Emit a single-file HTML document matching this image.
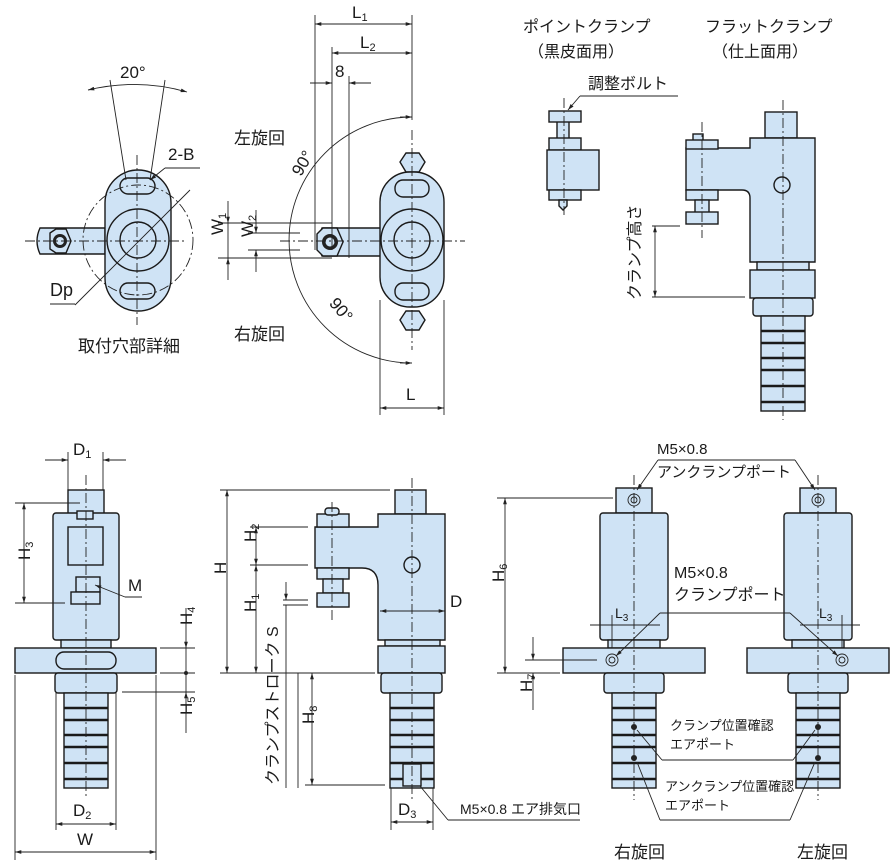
<!DOCTYPE html>
<html><head><meta charset="utf-8"><style>
html,body{margin:0;padding:0;background:#fff}
svg{display:block}
text{font-family:"Liberation Sans","Noto Sans CJK JP",sans-serif;fill:#1a1a1a}
.b{fill:#cfe3f5;stroke:#1a1a1a;stroke-width:1.4}
.l{fill:none;stroke:#222;stroke-width:0.9}
.c{fill:none;stroke:#222;stroke-width:0.9;stroke-dasharray:10,3,2,3}
.g{stroke:#1a1a1a;stroke-width:2.5}
</style></head><body>
<svg width="890" height="862" viewBox="0 0 890 862" xmlns="http://www.w3.org/2000/svg">
<defs>
<marker id="a" viewBox="0 0 10 10" refX="10" refY="5" markerWidth="7" markerHeight="7" orient="auto-start-reverse"><path d="M0,2 L10,5 L0,8 z" fill="#222"/></marker>
<g id="shank">
 <rect class="b" x="-22" y="0" width="44" height="95"/>
 <line class="g" x1="-22" y1="15" x2="22" y2="15"/><line class="g" x1="-22" y1="27" x2="22" y2="27"/>
 <line class="g" x1="-22" y1="42" x2="22" y2="42"/><line class="g" x1="-22" y1="54" x2="22" y2="54"/>
 <line class="g" x1="-22" y1="70" x2="22" y2="70"/><line class="g" x1="-22" y1="86" x2="22" y2="86"/>
</g>
<g id="unit">
 <rect class="b" x="-20" y="0" width="36" height="25"/>
 <circle class="l" cx="-2" cy="12" r="6"/><circle class="l" cx="-2" cy="12" r="3"/>
 <rect class="b" x="-36" y="25" width="68" height="127" rx="3"/>
 <rect class="b" x="-28" y="152" width="52" height="8"/>
 <rect class="b" x="-73" y="160" width="142" height="25"/>
 <rect class="b" x="-32" y="185" width="60" height="20" rx="3"/>
 <use href="#shank" x="-2" y="205"/>
</g>
</defs>

<!-- ===== Top-left mounting detail ===== -->
<path class="b" d="M40,228 L105,228 L105,254 L40,254 Q34,241 40,228z"/>
<polygon class="b" points="50,233 56,229 66,229 71,241 66,253 56,253 50,249" />
<circle cx="60" cy="241" r="7" fill="#222"/><circle cx="60" cy="241" r="4" fill="#cfe3f5"/>
<rect class="b" x="105" y="170" width="66" height="141" rx="33"/>
<circle class="b" cx="138" cy="240" r="31"/><circle class="b" cx="138" cy="240" r="18"/>
<rect class="b" x="120" y="178" width="35" height="16" rx="8"/>
<rect class="b" x="120" y="283" width="35" height="16" rx="8"/>
<circle class="c" cx="138" cy="240" r="55"/>
<line class="c" x1="25" y1="241" x2="185" y2="241"/><line class="c" x1="137" y1="155" x2="137" y2="325"/>
<line class="l" x1="110" y1="80" x2="126" y2="180"/><line class="l" x1="165" y1="80" x2="150" y2="180"/>
<path class="l" d="M88,90 Q138,78 187,92" marker-start="url(#a)" marker-end="url(#a)"/>
<text x="120" y="78" font-size="17">20°</text>
<text x="168" y="160" font-size="17">2-B</text><line class="l" x1="165" y1="168" x2="200" y2="168"/>
<line class="l" x1="165" y1="168" x2="150" y2="180" marker-end="url(#a)"/>
<line class="l" x1="75" y1="305" x2="190" y2="190"/>
<text x="50" y="296" font-size="18">Dp</text><line class="l" x1="50" y1="304" x2="75" y2="304"/>
<text x="78" y="352" font-size="17">取付穴部詳細</text>

<!-- ===== Top-middle ===== -->
<path class="l" d="M412,117 A123,123 0 0 0 412,363"/>
<line class="l" x1="400" y1="117" x2="412" y2="117" marker-end="url(#a)"/>
<line class="l" x1="400" y1="363" x2="412" y2="363" marker-end="url(#a)"/>
<path class="b" d="M322,228 L395,228 L395,256 L322,256 Q316,242 322,228z"/>
<polygon class="b" points="317,234 323,228 337,228 343,242 337,256 323,256 317,250"/>
<circle cx="330" cy="242" r="8" fill="#222"/><circle cx="330" cy="242" r="4.5" fill="#cfe3f5"/>
<polygon class="b" points="400,152 406,143 419,143 425,152 419,162 406,162" transform="translate(0,10)"/>
<polygon class="b" points="400,312 406,303 419,303 425,312 419,322 406,322" transform="translate(0,8)"/>
<rect class="b" x="380" y="172" width="64" height="135" rx="30"/>
<circle class="b" cx="412" cy="240" r="31"/><circle class="b" cx="412" cy="240" r="18"/>
<rect class="b" x="395" y="180" width="34" height="17" rx="8"/>
<rect class="b" x="395" y="283" width="34" height="17" rx="8"/>
<line class="c" x1="280" y1="241" x2="465" y2="241"/><line class="c" x1="412" y1="130" x2="412" y2="350"/>
<line class="l" x1="315" y1="15" x2="315" y2="250"/><line class="l" x1="412" y1="15" x2="412" y2="120"/>
<line class="l" x1="315" y1="24" x2="412" y2="24" marker-start="url(#a)" marker-end="url(#a)"/>
<text x="352" y="18" font-size="17">L<tspan font-size="11" dy="3">1</tspan></text>
<line class="l" x1="332" y1="47" x2="332" y2="250"/>
<line class="l" x1="332" y1="53" x2="412" y2="53" marker-start="url(#a)" marker-end="url(#a)"/>
<text x="360" y="48" font-size="17">L<tspan font-size="11" dy="3">2</tspan></text>
<line class="l" x1="349" y1="76" x2="349" y2="258"/>
<line class="l" x1="310" y1="83" x2="332" y2="83" marker-end="url(#a)"/>
<line class="l" x1="371" y1="83" x2="349" y2="83" marker-end="url(#a)"/>
<text x="335" y="77" font-size="17">8</text>
<text x="234" y="144" font-size="17">左旋回</text>
<text x="234" y="340" font-size="17">右旋回</text>
<text x="290" y="172" font-size="17" transform="rotate(-60,300,165)">90°</text>
<text x="318" y="310" font-size="17" transform="rotate(50,330,318)">90°</text>
<line class="l" x1="218" y1="223" x2="332" y2="223"/><line class="l" x1="218" y1="258" x2="332" y2="258"/>
<line class="l" x1="228" y1="201" x2="228" y2="223" marker-end="url(#a)"/><line class="l" x1="228" y1="280" x2="228" y2="258" marker-end="url(#a)"/>
<line class="l" x1="228" y1="223" x2="228" y2="258"/>
<line class="l" x1="248" y1="233" x2="300" y2="233"/><line class="l" x1="248" y1="250" x2="300" y2="250"/>
<line class="l" x1="256" y1="210" x2="256" y2="233" marker-end="url(#a)"/><line class="l" x1="256" y1="272" x2="256" y2="250" marker-end="url(#a)"/>
<text x="220" y="252" font-size="17" transform="rotate(-90,213,242)">W<tspan font-size="11" dy="3">1</tspan></text>
<text x="248" y="252" font-size="17" transform="rotate(-90,243,242)">W<tspan font-size="11" dy="3">2</tspan></text>
<line class="l" x1="380" y1="300" x2="380" y2="415"/><line class="l" x1="444" y1="300" x2="444" y2="415"/>
<line class="l" x1="380" y1="408" x2="444" y2="408" marker-start="url(#a)" marker-end="url(#a)"/>
<text x="406" y="400" font-size="17">L</text>

<!-- ===== Top-right ===== -->
<text x="523" y="32" font-size="16">ポイントクランプ</text>
<text x="528" y="57" font-size="16">（黒皮面用）</text>
<text x="705" y="32" font-size="16">フラットクランプ</text>
<text x="712" y="57" font-size="16">（仕上面用）</text>
<text x="588" y="89" font-size="16">調整ボルト</text>
<line class="l" x1="580" y1="96" x2="678" y2="96"/><line class="l" x1="580" y1="96" x2="568" y2="110" marker-end="url(#a)"/>
<rect class="b" x="557" y="120" width="12" height="75"/>
<rect class="b" x="549" y="111" width="32" height="11"/><rect class="b" x="549" y="138" width="32" height="12"/>
<rect class="b" x="547" y="150" width="52" height="40"/><rect class="b" x="549" y="190" width="32" height="10"/>
<path class="b" d="M559,200 L567,200 L567,206 L563,210 L559,206z"/>
<line class="c" x1="564" y1="98" x2="564" y2="215"/>
<rect class="b" x="765" y="112" width="32" height="26"/>
<path class="b" d="M750,138 L815,138 L815,262 L750,262 L750,198 Q750,190 742,190 L686,190 L686,148 L750,148z"/>
<rect class="b" x="693" y="134" width="10" height="12"/>
<rect class="b" x="686" y="140" width="32" height="9"/><rect class="b" x="686" y="190" width="32" height="10"/>
<rect class="b" x="695" y="200" width="14" height="14"/><rect class="b" x="686" y="212" width="32" height="12"/>
<circle class="b" cx="782" cy="185" r="8"/>
<rect class="b" x="757" y="262" width="52" height="8"/>
<rect class="b" x="750" y="270" width="65" height="28"/><rect class="b" x="753" y="298" width="60" height="18" rx="3"/>
<use href="#shank" x="783" y="316"/>
<line class="c" x1="783" y1="100" x2="783" y2="420"/>
<line class="c" x1="702" y1="122" x2="702" y2="238"/>
<line class="l" x1="652" y1="226" x2="680" y2="226"/><line class="l" x1="652" y1="297" x2="745" y2="297"/>
<line class="l" x1="655" y1="226" x2="655" y2="297" marker-start="url(#a)" marker-end="url(#a)"/>
<text x="640" y="300" font-size="16" transform="rotate(-90,640,300)">クランプ高さ</text>

<!-- ===== Bottom-left ===== -->
<line class="l" x1="68" y1="452" x2="68" y2="490"/><line class="l" x1="103" y1="452" x2="103" y2="490"/>
<line class="l" x1="45" y1="460" x2="68" y2="460" marker-end="url(#a)"/><line class="l" x1="126" y1="460" x2="103" y2="460" marker-end="url(#a)"/>
<text x="73" y="455" font-size="17">D<tspan font-size="11" dy="3">1</tspan></text>
<rect class="b" x="68" y="490" width="36" height="24"/>
<rect class="b" x="53" y="513" width="66" height="127" rx="3"/>
<rect class="b" x="68" y="527" width="35" height="38"/><rect class="b" x="77" y="511" width="16" height="8"/>
<rect class="b" x="76" y="577" width="24" height="15"/><rect class="b" x="71" y="592" width="29" height="12"/>
<rect class="b" x="61" y="640" width="50" height="8"/>
<rect class="b" x="15" y="648" width="141" height="25"/>
<rect class="b" x="56" y="652" width="60" height="17" rx="8"/>
<rect class="b" x="55" y="673" width="62" height="20" rx="3"/>
<use href="#shank" x="86" y="693"/>
<line class="c" x1="86" y1="475" x2="86" y2="798"/>
<line class="l" x1="15" y1="503" x2="80" y2="503"/><line class="l" x1="15" y1="603" x2="65" y2="603"/>
<line class="l" x1="24" y1="503" x2="24" y2="603" marker-start="url(#a)" marker-end="url(#a)"/>
<text x="18" y="572" font-size="17" transform="rotate(-90,18,560)">H<tspan font-size="11" dy="3">3</tspan></text>
<text x="128" y="591" font-size="17">M</text><line class="l" x1="142" y1="597" x2="125" y2="597"/>
<line class="l" x1="125" y1="597" x2="95" y2="585" marker-end="url(#a)"/>
<line class="l" x1="160" y1="648" x2="195" y2="648"/><line class="l" x1="160" y1="673" x2="195" y2="673"/><line class="l" x1="122" y1="692" x2="195" y2="692"/>
<line class="l" x1="186" y1="608" x2="186" y2="648" marker-end="url(#a)"/>
<line class="l" x1="186" y1="733" x2="186" y2="692" marker-end="url(#a)"/>
<line class="l" x1="186" y1="648" x2="186" y2="692"/><circle cx="186" cy="673" r="2" fill="#222"/>
<text x="180" y="637" font-size="17" transform="rotate(-90,180,625)">H<tspan font-size="11" dy="3">4</tspan></text>
<text x="180" y="727" font-size="17" transform="rotate(-90,180,715)">H<tspan font-size="11" dy="3">5</tspan></text>
<line class="l" x1="56" y1="693" x2="56" y2="830"/><line class="l" x1="116" y1="693" x2="116" y2="830"/>
<line class="l" x1="56" y1="824" x2="116" y2="824" marker-start="url(#a)" marker-end="url(#a)"/>
<text x="73" y="816" font-size="17">D<tspan font-size="11" dy="3">2</tspan></text>
<line class="l" x1="15" y1="675" x2="15" y2="860"/><line class="l" x1="156" y1="675" x2="156" y2="860"/>
<line class="l" x1="15" y1="852" x2="156" y2="852" marker-start="url(#a)" marker-end="url(#a)"/>
<text x="77" y="845" font-size="17">W</text>

<!-- ===== Bottom-middle ===== -->
<rect class="b" x="395" y="490" width="31" height="24"/>
<path class="b" d="M378,514 L445,514 L445,640 L378,640 L378,585 Q378,568 362,568 L315,568 L315,527 L378,527z"/>
<rect class="b" x="317" y="514" width="32" height="13"/><rect class="b" x="325" y="508" width="14" height="7" rx="3"/>
<rect class="b" x="317" y="568" width="32" height="11"/><rect class="b" x="323" y="579" width="20" height="14"/>
<rect class="b" x="317" y="593" width="32" height="14"/>
<circle class="b" cx="412" cy="565" r="8"/>
<rect class="b" x="385" y="640" width="55" height="6"/>
<rect class="b" x="378" y="646" width="67" height="27"/><rect class="b" x="381" y="673" width="61" height="20" rx="3"/>
<use href="#shank" x="412" y="693"/>
<rect class="b" x="403" y="764" width="18" height="22"/>
<line class="c" x1="412" y1="478" x2="412" y2="800"/><line class="c" x1="332" y1="502" x2="332" y2="620"/>
<line class="l" x1="220" y1="490" x2="390" y2="490"/><line class="l" x1="220" y1="673" x2="375" y2="673"/>
<line class="l" x1="227" y1="490" x2="227" y2="673" marker-start="url(#a)" marker-end="url(#a)"/>
<text x="220" y="592" font-size="17" transform="rotate(-90,214,580)">H</text>
<line class="l" x1="250" y1="527" x2="308" y2="527"/><line class="l" x1="250" y1="565" x2="308" y2="565"/>
<line class="l" x1="256" y1="527" x2="256" y2="565" marker-start="url(#a)" marker-end="url(#a)"/>
<line class="l" x1="256" y1="565" x2="256" y2="673" marker-start="url(#a)" marker-end="url(#a)"/>
<text x="250" y="560" font-size="17" transform="rotate(-90,244,548)">H<tspan font-size="11" dy="3">2</tspan></text>
<text x="250" y="630" font-size="17" transform="rotate(-90,244,618)">H<tspan font-size="11" dy="3">1</tspan></text>
<line class="l" x1="283" y1="600" x2="308" y2="600"/><line class="l" x1="283" y1="605" x2="308" y2="605"/>
<line class="l" x1="286" y1="582" x2="286" y2="600" marker-end="url(#a)"/>
<line class="l" x1="286" y1="605" x2="286" y2="788"/>
<text x="278" y="785" font-size="16" transform="rotate(-90,278,785)">クランプストローク S</text>
<line class="l" x1="298" y1="673" x2="298" y2="788"/>
<line class="l" x1="312" y1="673" x2="312" y2="785" marker-start="url(#a)" marker-end="url(#a)"/>
<line class="l" x1="305" y1="785" x2="385" y2="785"/>
<text x="308" y="742" font-size="17" transform="rotate(-90,302,730)">H<tspan font-size="11" dy="3">8</tspan></text>
<line class="l" x1="380" y1="611" x2="445" y2="611" marker-start="url(#a)" marker-end="url(#a)"/>
<text x="450" y="607" font-size="17">D</text>
<line class="l" x1="391" y1="788" x2="391" y2="830"/><line class="l" x1="433" y1="788" x2="433" y2="830"/>
<line class="l" x1="391" y1="822" x2="433" y2="822" marker-start="url(#a)" marker-end="url(#a)"/>
<text x="398" y="815" font-size="17">D<tspan font-size="11" dy="3">3</tspan></text>
<line class="l" x1="420" y1="786" x2="448" y2="820"/><line class="l" x1="448" y1="820" x2="580" y2="820"/>
<text x="460" y="814" font-size="14">M5×0.8 エア排気口</text>

<!-- ===== Bottom-right ===== -->
<use href="#unit" x="636" y="488"/>
<use href="#unit" x="820" y="488"/>
<line class="c" x1="634" y1="475" x2="634" y2="800"/><line class="c" x1="818" y1="475" x2="818" y2="800"/>
<text x="657" y="454" font-size="15">M5×0.8</text>
<text x="657" y="477" font-size="15">アンクランプポート</text>
<line class="l" x1="658" y1="460" x2="795" y2="460"/>
<line class="l" x1="658" y1="460" x2="637" y2="490" marker-end="url(#a)"/>
<line class="l" x1="795" y1="460" x2="815" y2="490" marker-end="url(#a)"/>
<line class="l" x1="497" y1="498" x2="613" y2="498"/><line class="l" x1="497" y1="673" x2="560" y2="673"/>
<line class="l" x1="505" y1="498" x2="505" y2="673" marker-start="url(#a)" marker-end="url(#a)"/>
<text x="498" y="600" font-size="17" transform="rotate(-90,492,588)">H<tspan font-size="11" dy="3">6</tspan></text>
<line class="l" x1="525" y1="660" x2="597" y2="660"/>
<line class="l" x1="533" y1="637" x2="533" y2="660" marker-end="url(#a)"/>
<line class="l" x1="533" y1="710" x2="533" y2="673" marker-end="url(#a)"/>
<text x="526" y="710" font-size="17" transform="rotate(-90,520,698)">H<tspan font-size="11" dy="3">7</tspan></text>
<circle class="l" cx="612" cy="660" r="6"/><circle class="l" cx="612" cy="660" r="3"/>
<circle class="l" cx="842" cy="660" r="6"/><circle class="l" cx="842" cy="660" r="3"/>
<text x="674" y="578" font-size="16">M5×0.8</text>
<text x="674" y="600" font-size="16">クランプポート</text>
<line class="l" x1="660" y1="613" x2="790" y2="613"/>
<line class="l" x1="660" y1="613" x2="616" y2="656" marker-end="url(#a)"/>
<line class="l" x1="790" y1="613" x2="838" y2="656" marker-end="url(#a)"/>
<line class="l" x1="590" y1="625" x2="660" y2="625" /><line class="l" x1="612" y1="615" x2="612" y2="648"/>
<text x="615" y="618" font-size="14">L<tspan font-size="10" dy="3">3</tspan></text>
<line class="l" x1="800" y1="625" x2="860" y2="625"/><line class="l" x1="842" y1="615" x2="842" y2="648"/>
<text x="819" y="618" font-size="14">L<tspan font-size="10" dy="3">3</tspan></text>
<circle cx="634" cy="727" r="3" fill="#222"/><circle cx="634" cy="758" r="3" fill="#222"/>
<circle cx="818" cy="727" r="3" fill="#222"/><circle cx="818" cy="758" r="3" fill="#222"/>
<text x="670" y="730" font-size="13">クランプ位置確認</text>
<text x="670" y="749" font-size="13">エアポート</text>
<line class="l" x1="637" y1="730" x2="662" y2="760"/><line class="l" x1="662" y1="760" x2="793" y2="760"/><line class="l" x1="793" y1="760" x2="815" y2="730"/>
<text x="665" y="791" font-size="13">アンクランプ位置確認</text>
<text x="665" y="810" font-size="13">エアポート</text>
<line class="l" x1="637" y1="762" x2="660" y2="820"/><line class="l" x1="660" y1="820" x2="790" y2="820"/><line class="l" x1="790" y1="820" x2="815" y2="762"/>
<text x="614" y="858" font-size="17">右旋回</text>
<text x="797" y="858" font-size="17">左旋回</text>
</svg>
</body></html>
